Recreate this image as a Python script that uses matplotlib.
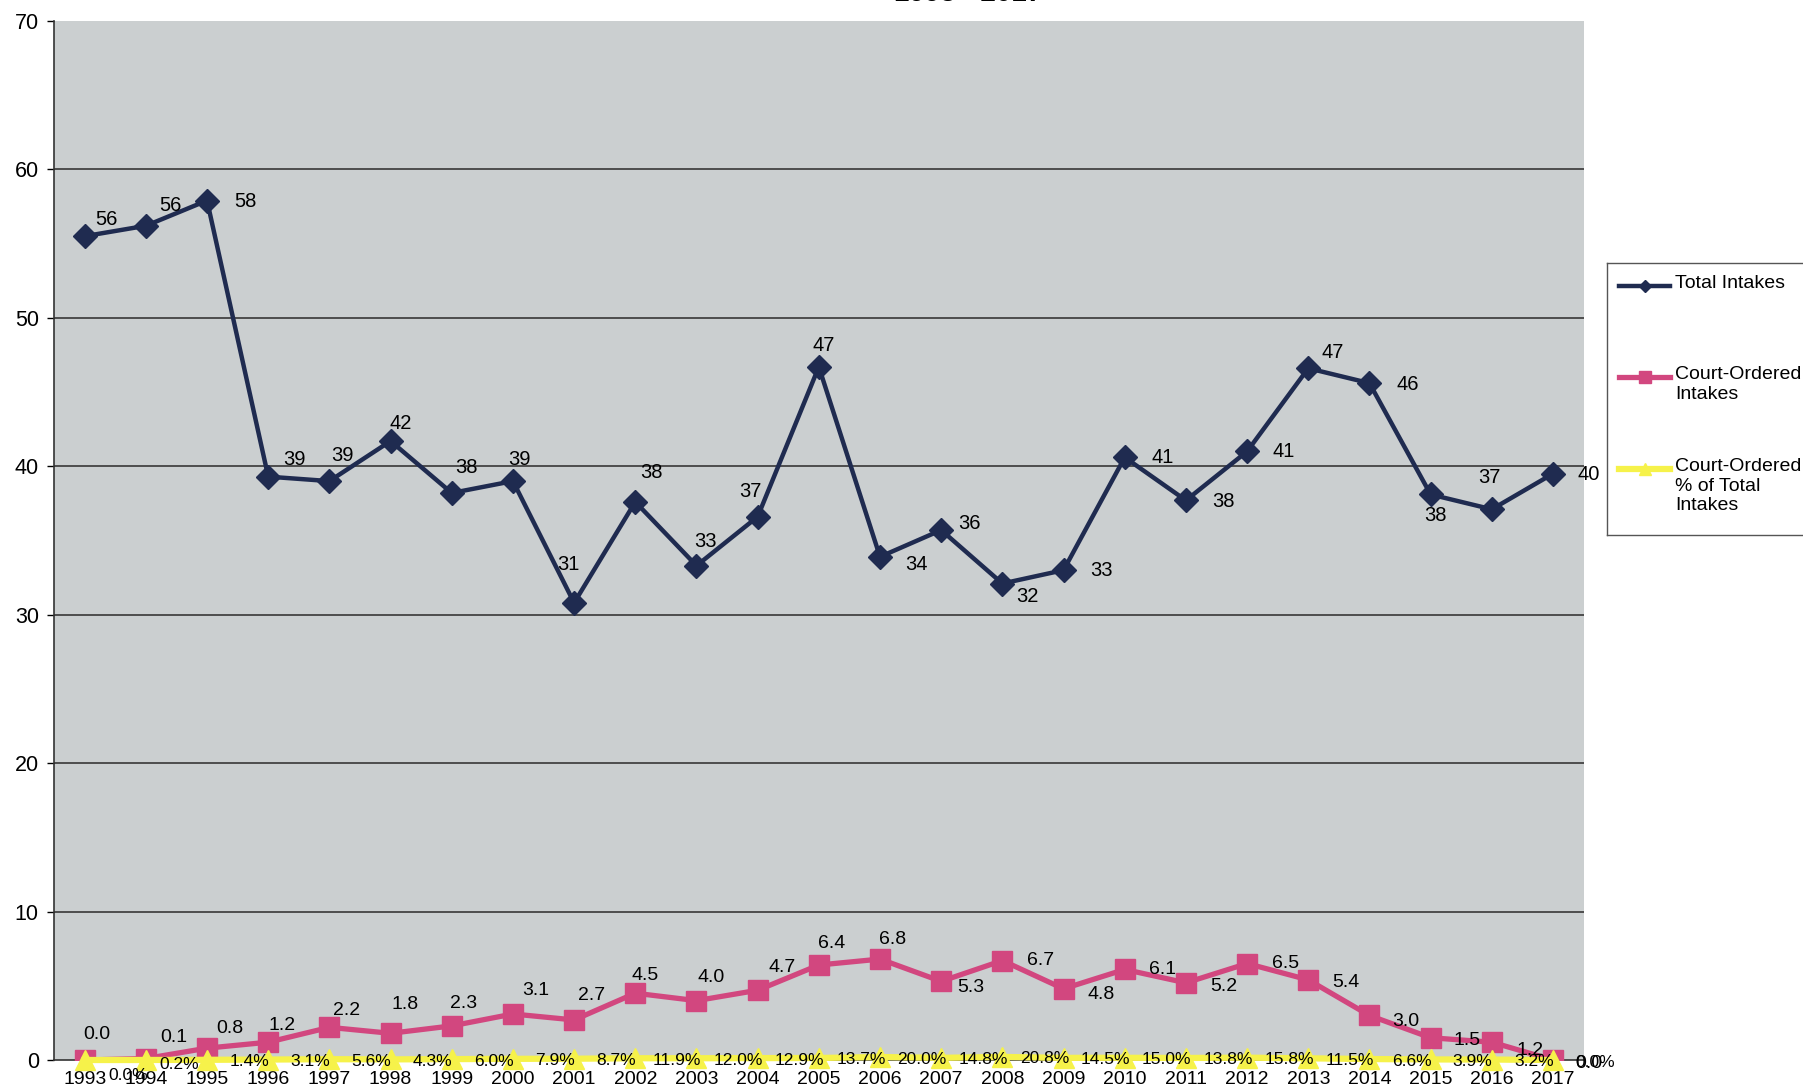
import numpy as np
import matplotlib
matplotlib.use("Agg")
import matplotlib.pyplot as plt
from matplotlib.lines import Line2D

plt.rcParams['font.family'] = ['Liberation Sans', 'DejaVu Sans']

# data
years = [str(y) for y in range(1993, 2018)]
total_intakes = [55.5, 56.2, 57.9, 39.3, 39.0, 41.7, 38.2, 39.0, 30.8, 37.6,
                 33.3, 36.6, 46.7, 33.9, 35.7, 32.1, 33.0, 40.6, 37.7, 41.0,
                 46.6, 45.6, 38.1, 37.1, 39.5]
court_intakes = [0.0, 0.1, 0.8, 1.2, 2.2, 1.8, 2.3, 3.1, 2.7, 4.5,
                 4.0, 4.7, 6.4, 6.8, 5.3, 6.7, 4.8, 6.1, 5.2, 6.5,
                 5.4, 3.0, 1.5, 1.2, 0.0]
court_pct = [0.0, 0.2, 1.4, 3.1, 5.6, 4.3, 6.0, 7.9, 8.7, 11.9,
             12.0, 12.9, 13.7, 20.0, 14.8, 20.8, 14.5, 15.0, 13.8, 15.8,
             11.5, 6.6, 3.9, 3.2, 0.0]
title = "1993 - 2017"
series_names = ["Total Intakes", "Court-Ordered\nIntakes",
                "Court-Ordered\n% of Total\nIntakes"]

# label offsets in pixels (label placement only)
total_off = [(22, 17), (25, 20), (38, -1), (26, 17), (13, 26), (10, 18), (15, 25),
             (7, 22), (-6, 38), (16, 29), (9, 24), (-7, 25), (5, 21), (36, -8),
             (28, 7), (25, -13), (38, 0), (38, 0), (38, -1), (37, 0), (24, 16),
             (38, -1), (5, -21), (-2, 32), (36, -1)]
court_off = [(12, 26), (28, 21), (23, 20), (14, 17), (17, 17), (14, 29), (12, 22),
             (23, 23), (17, 24), (10, 18), (15, 23), (24, 23), (13, 22), (13, 20),
             (30, -6), (38, 0), (38, -6), (38, 0), (38, -4), (38, 0), (38, -3),
             (36, -6), (36, -3), (38, -8), (36, -3)]
pct_off = [(44, -15), (33, -5)] + [(42, -2)] * 23

navy = '#1f2b50'
pink = '#d2477f'
yellow = '#f6f24a'

fig = plt.figure(figsize=(18.03, 10.91), dpi=100)
ax = fig.add_axes([0.030, 0.0284, 0.8483, 0.9524])
ax.set_facecolor('#cbcfd0')

x = np.arange(len(years))
ax.plot(x, total_intakes, color=navy, lw=3.2, marker='D', ms=12, zorder=3)
ax.plot(x, court_intakes, color=pink, lw=3.8, marker='s', ms=14, zorder=4)
pct_frac = np.array(court_pct) / 100.0
ax.plot(x, pct_frac, color=yellow, lw=4.5, marker='^', ms=14, zorder=5,
        clip_on=False)

for i in range(len(years)):
    ax.annotate(f"{total_intakes[i]:.0f}", (x[i], total_intakes[i]),
                xytext=total_off[i], textcoords='offset pixels',
                ha='center', va='center', fontsize=14.5, color='black', zorder=6)
    ax.annotate(f"{court_intakes[i]:.1f}", (x[i], court_intakes[i]),
                xytext=court_off[i], textcoords='offset pixels',
                ha='center', va='center', fontsize=14, color='black', zorder=6)
    ax.annotate(f"{court_pct[i]:.1f}%", (x[i], pct_frac[i]),
                xytext=pct_off[i], textcoords='offset pixels',
                ha='center', va='center', fontsize=12.5, color='black', zorder=6,
                annotation_clip=False)

ax.set_xlim(-0.5, len(years) - 0.5)
ax.set_ylim(0, 70)
ax.set_yticks(range(0, 71, 10))
ax.set_xticks(x)
ax.set_xticklabels(years, fontsize=14)
ax.tick_params(axis='y', labelsize=15.5, length=5, width=1, direction='out', pad=6)
ax.tick_params(axis='x', length=0, pad=8)
for v in range(10, 70, 10):
    ax.axhline(v, color='#4d4d4d', lw=1.4, zorder=1)
for s in ['top', 'right']:
    ax.spines[s].set_visible(False)
ax.spines['left'].set_color('#333333')
ax.spines['bottom'].set_color('#333333')
ax.spines['left'].set_linewidth(1.2)
ax.spines['bottom'].set_linewidth(1.2)

fig.text(968 / 1803, 1 - 1 / 1091, title, ha='center', va='baseline',
         fontsize=20, fontweight='bold')

# legend box, drawn by hand so the keys sit on the first text line
lax = fig.add_axes([1607 / 1803, 1 - 535 / 1091, 0.15, 272 / 1091])
lax.set_xlim(0, 0.15 * 1803)
lax.set_ylim(535, 263)
lax.set_xticks([])
lax.set_yticks([])
lax.set_facecolor('white')
for s in lax.spines.values():
    s.set_color('#555555')
    s.set_linewidth(1.0)
key_y = [286, 377, 469]
styles = [(navy, 'D', 3.2, 6), (pink, 's', 3.8, 9), (yellow, '^', 4.5, 8)]
for ky, name, (c, m, lw, ms) in zip(key_y, series_names, styles):
    lax.add_line(Line2D([12, 63], [ky, ky], color=c, lw=lw))
    lax.add_line(Line2D([37.5], [ky], color=c, marker=m, ms=ms))
    lax.text(68, ky - 11, name, ha='left', va='top', fontsize=14,
             linespacing=1.2)

fig.savefig('out.png', dpi=100)
